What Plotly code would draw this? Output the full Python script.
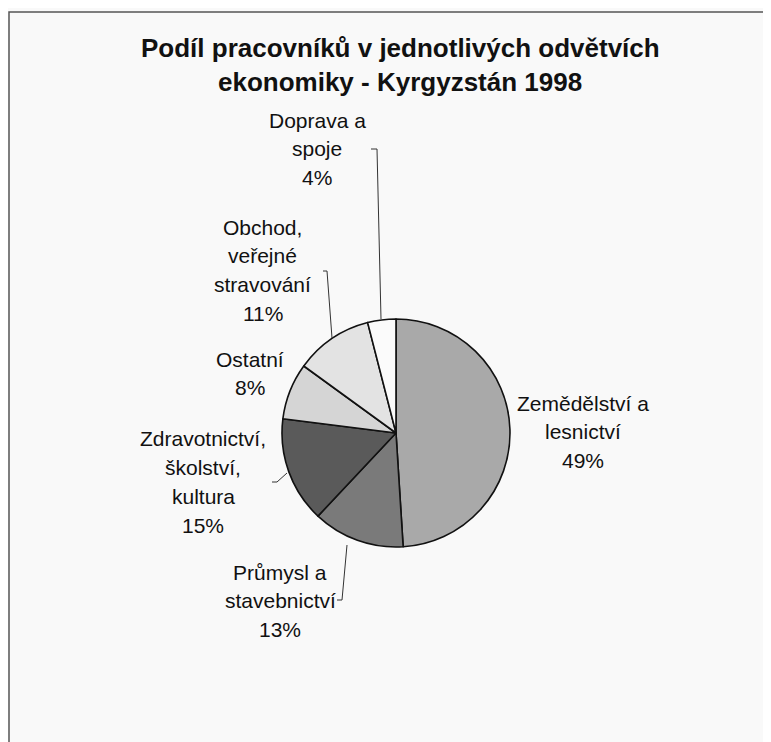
import plotly.graph_objects as go

# ---- data ----
categories = ["Zemědělství a lesnictví", "Průmysl a stavebnictví",
              "Zdravotnictví, školství, kultura", "Ostatní",
              "Obchod, veřejné stravování", "Doprava a spoje"]
label_lines = [["Zemědělství a", "lesnictví"],
               ["Průmysl a", "stavebnictví"],
               ["Zdravotnictví,", "školství,", "kultura"],
               ["Ostatní"],
               ["Obchod,", "veřejné", "stravování"],
               ["Doprava a", "spoje"]]
values = [49, 13, 15, 8, 11, 4]
colors = ["#a9a9a9", "#7a7a7a", "#5a5a5a", "#d5d5d5", "#e3e3e3", "#fbfbfb"]
title_lines = ["Podíl pracovníků v jednotlivých odvětvích",
               "ekonomiky - Kyrgyzstán 1998"]

# ---- layout helpers (pixel positions in the 771x742 window) ----
OFF = 8                      # default page body margin
W, H = 771 - OFF, 742 - OFF
def px(x): return (x - OFF) / W
def py(y): return 1 - (y - OFF) / H

cx, cy, r = 396, 433, 114
label_pos = [(583, 403), (280, 572), (203, 439), (250, 359), (263, 227), (317, 120)]
line_gap = 28.7
leaders = [None,
           [(337, 600), (342, 600), (347, 545)],
           [(272, 482), (277, 482), (287, 473)],
           None,
           [(323, 271), (327, 271), (332, 338)],
           [(371, 149), (377, 149), (381, 319)]]

fig = go.Figure()
fig.add_trace(go.Pie(
    labels=categories, values=values, sort=False, direction="clockwise",
    rotation=0, textinfo="none", hoverinfo="label+percent",
    marker=dict(colors=colors, line=dict(color="#111111", width=1.6)),
    domain=dict(x=[px(cx - r), px(cx + r)], y=[py(cy + r), py(cy - r)]),
    showlegend=False,
))

annotations = []
font = dict(family="Liberation Sans, Arial, sans-serif", size=21, color="#111111")
for lines, v, (lx, ly) in zip(label_lines, values, label_pos):
    for i, t in enumerate(lines + [f"{v}%"]):
        annotations.append(dict(
            x=px(lx), y=py(ly + i * line_gap), xref="paper", yref="paper",
            text=t, showarrow=False, xanchor="center", yanchor="middle",
            font=font))

for i, t in enumerate(title_lines):
    annotations.append(dict(
        x=px(400), y=py(48 + i * 34), xref="paper", yref="paper",
        text=f"<b>{t}</b>", showarrow=False, xanchor="center", yanchor="middle",
        font=dict(family="Liberation Sans, Arial, sans-serif", size=26, color="#111111")))

shapes = []
for pts in leaders:
    if pts:
        path = "M " + " L ".join(f"{px(x)},{py(y)}" for x, y in pts)
        shapes.append(dict(type="path", xref="paper", yref="paper", path=path,
                           line=dict(color="#333333", width=1)))
# chart frame (left and top edges visible)
shapes.append(dict(type="rect", xref="paper", yref="paper",
                   x0=px(9), y0=-0.05, x1=1.05, y1=py(12),
                   line=dict(color="#555555", width=1.5)))

fig.update_layout(
    width=W, height=H, margin=dict(l=0, r=0, t=0, b=0),
    paper_bgcolor="#f9f9f9", plot_bgcolor="#f9f9f9",
    annotations=annotations, shapes=shapes, showlegend=False,
)
fig.write_html("out.html")
